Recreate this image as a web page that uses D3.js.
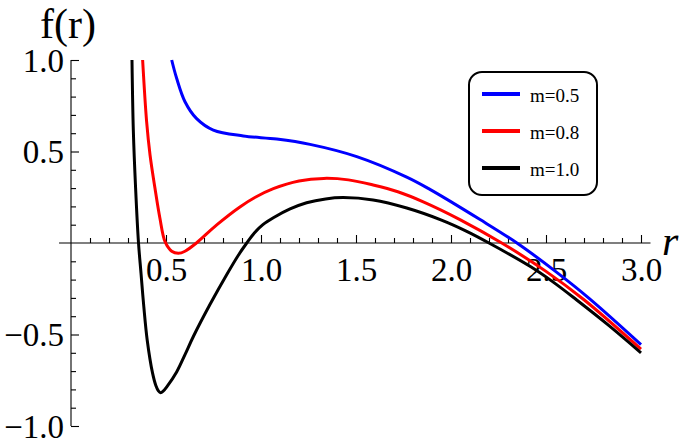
<!DOCTYPE html>
<html>
<head>
<meta charset="utf-8">
<script src="https://cdn.jsdelivr.net/npm/d3@7"></script>
<style>
  html, body { margin: 0; padding: 0; background: #fff; }
  svg { display: block; }
  text { font-family: "Liberation Serif", "Times New Roman", serif; fill: #000; }
</style>
</head>
<body>
<svg id="chart" width="685" height="448"></svg>
<script>
// ---- data ----
const seriesNames = ["m=0.5", "m=0.8", "m=1.0"];
const seriesColors = ["#0000ff", "#ff0000", "#000000"];

const blueR = [0.53, 0.556, 0.60, 0.66, 0.749, 0.907, 1.083, 1.258, 1.504, 1.767, 1.889, 2.153, 2.347, 2.55, 2.73, 3.0];
const blueF = [1.0, 0.90, 0.772, 0.681, 0.617, 0.585, 0.568, 0.539, 0.472, 0.36, 0.293, 0.128, 0.0, -0.155, -0.305, -0.555];

const redR = [0.377, 0.398, 0.416, 0.442, 0.468, 0.495, 0.53, 0.565, 0.60, 0.66, 0.767, 0.889, 0.97, 1.065, 1.20, 1.33, 1.46, 1.59, 1.72, 1.854, 2.047, 2.267, 2.50, 2.70, 3.0];
const redF = [1.0, 0.663, 0.481, 0.299, 0.135, 0.007, -0.045, -0.056, -0.045, 0.0, 0.099, 0.197, 0.250, 0.297, 0.339, 0.353, 0.345, 0.317, 0.280, 0.225, 0.128, 0.0, -0.155, -0.31, -0.58];

const blackR = [0.321, 0.328, 0.340, 0.3553, 0.3684, 0.3832, 0.401, 0.429, 0.447, 0.46, 0.472, 0.485, 0.505, 0.556, 0.60, 0.644, 0.732, 0.82, 0.88, 0.925, 0.965, 1.01, 1.065, 1.153, 1.24, 1.34, 1.433, 1.59, 1.767, 1.95, 2.08, 2.20, 2.42, 2.54, 2.66, 2.83, 3.0];
const blackF = [1.0, 0.617, 0.30, 0.0, -0.164, -0.348, -0.53, -0.71, -0.78, -0.808, -0.818, -0.81, -0.785, -0.705, -0.61, -0.511, -0.335, -0.172, -0.068, 0.0, 0.055, 0.10, 0.138, 0.186, 0.220, 0.241, 0.248, 0.235, 0.191, 0.125, 0.065, 0.0, -0.13, -0.215, -0.31, -0.45, -0.60];

const xMajorTicks = [0.5, 1.0, 1.5, 2.0, 2.5, 3.0];
const yMajorTicks = [-1.0, -0.5, 0.5, 1.0];
const xAxisExtent = [-0.063, 3.05];

// ---- chart ----
const svg = d3.select("#chart");
const x = d3.scaleLinear().domain([0, 3]).range([71, 641]);
const y = d3.scaleLinear().domain([-1, 1]).range([426, 60]);

const xMinor = d3.range(1, 31).map(i => i / 10).filter(v => Math.abs(v * 2 - Math.round(v * 2)) > 1e-6);
const yMinor = d3.range(-10, 11).map(i => i / 10).filter(v => v !== 0 && Math.abs(v * 2 - Math.round(v * 2)) > 1e-6);
const serif = "'Liberation Serif', 'Times New Roman', serif";

// x axis line
svg.append("line")
  .attr("x1", x(xAxisExtent[0])).attr("x2", x(xAxisExtent[1]))
  .attr("y1", y(0)).attr("y2", y(0))
  .attr("stroke", "#000").attr("stroke-width", 1.1);

// x ticks (upward)
const gx = svg.append("g").attr("transform", `translate(0,${y(0)})`);
gx.append("g").call(d3.axisTop(x).tickValues(xMinor).tickSize(5).tickFormat(""))
  .call(g => g.select(".domain").remove());
gx.append("g").call(d3.axisTop(x).tickValues(xMajorTicks).tickSize(8).tickFormat(""))
  .call(g => g.select(".domain").remove());
// x labels
gx.append("g").call(d3.axisBottom(x).tickValues(xMajorTicks).tickSize(0).tickPadding(0).tickFormat(d3.format(".1f")))
  .attr("font-family", serif).attr("font-size", 33)
  .call(g => g.select(".domain").remove())
  .call(g => g.selectAll("text").attr("y", 37.5).attr("dy", null)
    .style("font-size", "33px").style("font-family", serif).attr("fill", "#000"));

// y axis
const gy = svg.append("g").attr("transform", `translate(${x(0)},0)`);
gy.append("line").attr("x1", 0).attr("x2", 0).attr("y1", y(1)).attr("y2", y(-1))
  .attr("stroke", "#000").attr("stroke-width", 1.1);
gy.append("g").call(d3.axisRight(y).tickValues(yMinor).tickSize(5).tickFormat(""))
  .call(g => g.select(".domain").remove());
gy.append("g").call(d3.axisRight(y).tickValues(yMajorTicks).tickSize(8).tickFormat(""))
  .call(g => g.select(".domain").remove());
gy.append("g").call(d3.axisLeft(y).tickValues(yMajorTicks).tickSize(0).tickPadding(7).tickFormat(d3.format(".1f")))
  .attr("font-family", serif).attr("font-size", 33)
  .call(g => g.select(".domain").remove())
  .call(g => g.selectAll("text").attr("dy", "0.34em")
    .style("font-size", "33px").style("font-family", serif).attr("fill", "#000"));

svg.selectAll(".tick line").attr("stroke", "#000").attr("stroke-width", 1.1);

// axis titles
svg.append("text").attr("x", 40).attr("y", 38).style("font-size", "42px").text("f(r)");
svg.append("text").attr("x", 662).attr("y", 255).style("font-size", "42px").style("font-style", "italic").text("r");

// clip
svg.append("clipPath").attr("id", "clip").append("rect")
  .attr("x", x(0)).attr("y", y(1) - 1).attr("width", x(3.05) - x(0)).attr("height", y(-1) - y(1) + 2);

const line = d3.line().x(d => x(d[0])).y(d => y(d[1])).curve(d3.curveCatmullRom.alpha(0.5));
const series = [
  d3.zip(blueR, blueF),
  d3.zip(redR, redF),
  d3.zip(blackR, blackF)
];
svg.append("g").attr("clip-path", "url(#clip)")
  .selectAll("path").data(series).join("path")
  .attr("d", line)
  .attr("fill", "none")
  .attr("stroke", (d, i) => seriesColors[i])
  .attr("stroke-width", 3)
  .attr("stroke-linejoin", "round");

// legend
const lg = svg.append("g");
lg.append("rect").attr("x", 469).attr("y", 72).attr("width", 128).attr("height", 123)
  .attr("rx", 13).attr("ry", 13).attr("fill", "#fff").attr("stroke", "#000").attr("stroke-width", 2);
const items = lg.selectAll("g.item").data(seriesNames).join("g").attr("class", "item")
  .attr("transform", (d, i) => `translate(0,${94 + i * 37})`);
items.append("line").attr("x1", 482).attr("x2", 520).attr("y1", 0).attr("y2", 0)
  .attr("stroke", (d, i) => seriesColors[i]).attr("stroke-width", 4);
items.append("text").attr("x", 530).attr("y", 8).style("font-size", "19px").text(d => d);
</script>
</body>
</html>
